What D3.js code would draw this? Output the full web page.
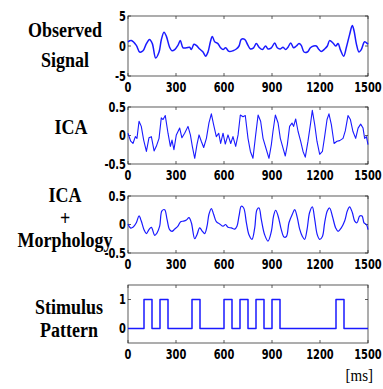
<!DOCTYPE html>
<html>
<head>
<meta charset="utf-8">
<script src="https://cdn.jsdelivr.net/npm/d3@7"></script>
<style>
  body { margin: 0; background: #fff; }
  .tick-lab { font-family: "Liberation Sans Narrow", "DejaVu Sans Condensed", "Arial Narrow", sans-serif; font-weight: bold; font-size: 11px; fill: #000; }
  .title { font-family: "Liberation Serif", "Times New Roman", serif; font-weight: bold; font-size: 18px; fill: #000; }
</style>
</head>
<body>
<script>
// x axis ticks (ms)
let xTicks = [0, 300, 600, 900, 1200, 1500];

// observed signal: [ms, value]
let observed = [[0,0.7],[21,0.9],[52,0.1],[73,-1.0],[94,-0.8],[115,0.4],[135,1.1],[152,0.4],[173,-2.0],[194,-1.0],
  [208,1.0],[225,2.3],[240,1.6],[260,-0.2],[275,-0.8],[292,-0.6],[312,0.1],[327,0.9],[344,-0.3],[365,-0.3],
  [385,-0.2],[396,-0.6],[412,0.3],[427,0.1],[448,-0.5],[469,-1.0],[485,-1.7],[500,-1.0],[515,0.7],[527,1.6],
  [542,0.7],[562,0.4],[579,-0.3],[594,-0.6],[610,-0.3],[631,-0.9],[656,-0.8],[677,-0.5],[694,0],[708,1.1],
  [729,1.1],[750,0.1],[765,-0.5],[785,-0.3],[802,0.4],[819,-0.2],[840,-0.6],[860,0],[875,-0.5],[896,-0.3],
  [917,0.5],[933,-0.3],[952,-0.5],[969,-0.2],[985,-0.6],[1000,-0.2],[1017,0.5],[1035,-0.3],[1052,0],[1069,0.4],
  [1083,0.1],[1100,-1.0],[1121,-1.0],[1140,-0.3],[1160,0],[1177,0],[1194,-0.6],[1208,-0.9],[1229,-0.5],[1246,0],
  [1260,0.9],[1281,0.5],[1298,0],[1313,0.4],[1327,-0.6],[1348,-1.7],[1365,-0.2],[1385,1.9],[1402,3.4],[1413,2.5],
  [1427,0.4],[1444,-1.0],[1458,-0.6],[1479,0.7],[1496,0.4],[1500,0.3]];

// ICA component
let ica = [[0,0.04],[17,-0.1],[31,-0.14],[46,-0.02],[56,-0.05],[69,0.25],[83,0.16],[98,-0.08],[115,-0.28],[131,-0.04],
  [146,-0.02],[163,-0.27],[177,-0.19],[194,-0.05],[208,0.31],[219,0.28],[233,0.35],[250,0.04],[265,-0.19],[275,-0.08],
  [287,-0.25],[302,0.01],[323,0.13],[337,-0.04],[354,0.04],[375,0.16],[390,0.01],[402,-0.19],[417,-0.4],[431,-0.16],
  [444,0.01],[458,-0.1],[473,-0.21],[490,-0.05],[506,0.22],[521,0.38],[535,0.19],[552,-0.02],[567,0.04],[579,-0.14],
  [594,0.04],[608,-0.15],[625,0.01],[642,-0.14],[656,-0.02],[673,-0.19],[688,0.01],[702,0.36],[719,0.33],[733,0.35],
  [750,-0.05],[765,-0.28],[781,-0.4],[798,0.01],[813,0.36],[829,0.25],[844,-0.05],[865,-0.25],[881,-0.4],[896,-0.16],
  [906,0.07],[921,0.36],[938,0.22],[952,-0.05],[969,-0.22],[983,-0.36],[996,-0.16],[1010,0.16],[1025,0.22],[1035,0.16],
  [1048,0.29],[1063,0.07],[1079,-0.1],[1094,-0.28],[1108,-0.38],[1125,-0.1],[1140,0.19],[1152,0.44],[1167,0.19],[1181,-0.1],
  [1198,-0.33],[1215,-0.28],[1229,-0.02],[1244,0.28],[1256,0.38],[1271,0.19],[1288,-0.14],[1306,-0.1],[1323,-0.09],[1344,-0.05],
  [1358,0.08],[1375,0.35],[1390,0.28],[1406,0.07],[1423,-0.05],[1438,0.13],[1454,0.2],[1469,0.13],[1479,-0.05],[1490,-0.02],[1500,-0.16]];

// ICA + morphology
let icaMorph = [[0,0.01],[15,-0.06],[31,-0.05],[52,0.03],[69,0.15],[83,0.06],[100,-0.09],[115,-0.16],[131,-0.09],[146,-0.05],
  [167,-0.19],[181,-0.15],[198,-0.03],[212,0.24],[229,0.26],[244,0.09],[260,-0.09],[275,-0.12],[292,-0.08],[312,-0.03],
  [329,0.05],[348,0.06],[365,0.08],[381,0.12],[396,0.03],[417,-0.25],[431,-0.18],[448,-0.06],[465,-0.12],[479,-0.16],
  [494,-0.03],[506,0.18],[521,0.28],[535,0.18],[552,0.05],[573,0.01],[594,-0.03],[610,0],[625,-0.05],[646,-0.06],
  [667,-0.08],[681,-0.03],[694,0.15],[708,0.32],[723,0.29],[740,0.03],[756,-0.18],[775,-0.26],[792,-0.06],[806,0.26],
  [819,0.29],[833,0.09],[854,-0.18],[875,-0.29],[896,-0.12],[910,0.15],[923,0.25],[938,0.15],[958,-0.09],[975,-0.22],
  [990,-0.21],[1006,0.03],[1027,0.18],[1042,0.26],[1058,0.12],[1073,-0.08],[1090,-0.21],[1104,-0.26],[1119,-0.09],[1135,0.21],
  [1152,0.31],[1167,0.09],[1183,-0.18],[1198,-0.26],[1215,-0.21],[1229,0.03],[1246,0.24],[1260,0.29],[1277,0.15],[1298,-0.06],
  [1313,-0.12],[1333,-0.06],[1354,0.06],[1371,0.24],[1385,0.31],[1402,0.21],[1417,0.06],[1431,0.03],[1448,0.15],[1463,0.15],
  [1475,0.03],[1490,0],[1500,-0.09]];

// stimulus onsets (ms), each pulse lasts pulseLen
let onsets = [100, 200, 400, 600, 700, 800, 900, 1300];
let pulseLen = 50;

let titles = [["Observed", "Signal"], ["ICA"], ["ICA", "+", "Morphology"], ["Stimulus", "Pattern"]];

let width = 383, height = 389;
let svg = d3.select("body").append("svg").attr("width", width).attr("height", height);

let x = d3.scaleLinear().domain([0, 1500]).range([128, 368]);

// stimulus as step series
let stim = [[0, 0]];
onsets.forEach(function(t) { stim.push([t, 1]); stim.push([t + pulseLen, 0]); });
stim.push([1500, 0]);

let panels = [
  { top: 16, bottom: 76, domain: [-5, 5], ticks: [-5, 0, 5], data: observed, curve: d3.curveCatmullRom, lw: 1.5,
    titleY: [37, 67], titleX: 65 },
  { top: 107, bottom: 164, domain: [-0.5, 0.5], ticks: [-0.5, 0, 0.5], data: ica, curve: d3.curveLinear, lw: 1.1,
    titleY: [134], titleX: 71 },
  { top: 196, bottom: 253, domain: [-0.5, 0.5], ticks: [-0.5, 0, 0.5], data: icaMorph, curve: d3.curveCatmullRom, lw: 1.2,
    titleY: [202, 225, 247], titleX: 65 },
  { top: 285, bottom: 343, domain: [-0.5, 1.5], ticks: [0, 1], data: stim, curve: d3.curveStepAfter, lw: 1.5,
    titleY: [314, 337], titleX: 69 }
];

let fmt = function(d) { return d === 0 ? "0" : String(d); };

panels.forEach(function(p, i) {
  let y = d3.scaleLinear().domain(p.domain).range([p.bottom, p.top]);
  let g = svg.append("g");

  // box
  g.append("rect").attr("x", x.range()[0]).attr("y", p.top)
    .attr("width", x.range()[1] - x.range()[0]).attr("height", p.bottom - p.top)
    .attr("fill", "none").attr("stroke", "#333").attr("stroke-width", 0.8);

  // inward ticks, top and bottom
  xTicks.forEach(function(t) {
    g.append("line").attr("x1", x(t)).attr("x2", x(t)).attr("y1", p.bottom).attr("y2", p.bottom - 3)
      .attr("stroke", "#333").attr("stroke-width", 0.8);
    g.append("line").attr("x1", x(t)).attr("x2", x(t)).attr("y1", p.top).attr("y2", p.top + 3)
      .attr("stroke", "#333").attr("stroke-width", 0.8);
    g.append("text").attr("class", "tick-lab")
      .attr("text-anchor", "middle")
      .attr("transform", "translate(" + x(t) + "," + (p.bottom + 16) + ") scale(1,1.2)")
      .text(t);
  });
  p.ticks.forEach(function(v) {
    g.append("line").attr("x1", x.range()[0]).attr("x2", x.range()[0] + 3).attr("y1", y(v)).attr("y2", y(v))
      .attr("stroke", "#333").attr("stroke-width", 0.8);
    g.append("line").attr("x1", x.range()[1]).attr("x2", x.range()[1] - 3).attr("y1", y(v)).attr("y2", y(v))
      .attr("stroke", "#333").attr("stroke-width", 0.8);
    g.append("text").attr("class", "tick-lab")
      .attr("text-anchor", "end")
      .attr("transform", "translate(" + (x.range()[0] - 2) + "," + (y(v) + 4.5) + ") scale(1,1.2)")
      .text(fmt(v));
  });

  // signal
  let line = d3.line().curve(p.curve)
    .x(function(d) { return x(d[0]); })
    .y(function(d) { return y(d[1]); });
  g.append("path").datum(p.data).attr("d", line)
    .attr("fill", "none").attr("stroke", "#1a1aff").attr("stroke-width", p.lw)
    .attr("stroke-linejoin", "round");

  // title
  titles[i].forEach(function(s, k) {
    svg.append("text").attr("class", "title").attr("text-anchor", "middle")
      .attr("transform", "translate(" + p.titleX + "," + p.titleY[k] + ") scale(1,1.2)")
      .text(s);
  });
});

svg.append("text")
  .attr("text-anchor", "end")
  .attr("transform", "translate(373,381) scale(1,1.15)")
  .style("font-family", "'Liberation Serif', 'Times New Roman', serif")
  .style("font-size", "15px")
  .text("[ms]");
</script>
</body>
</html>
